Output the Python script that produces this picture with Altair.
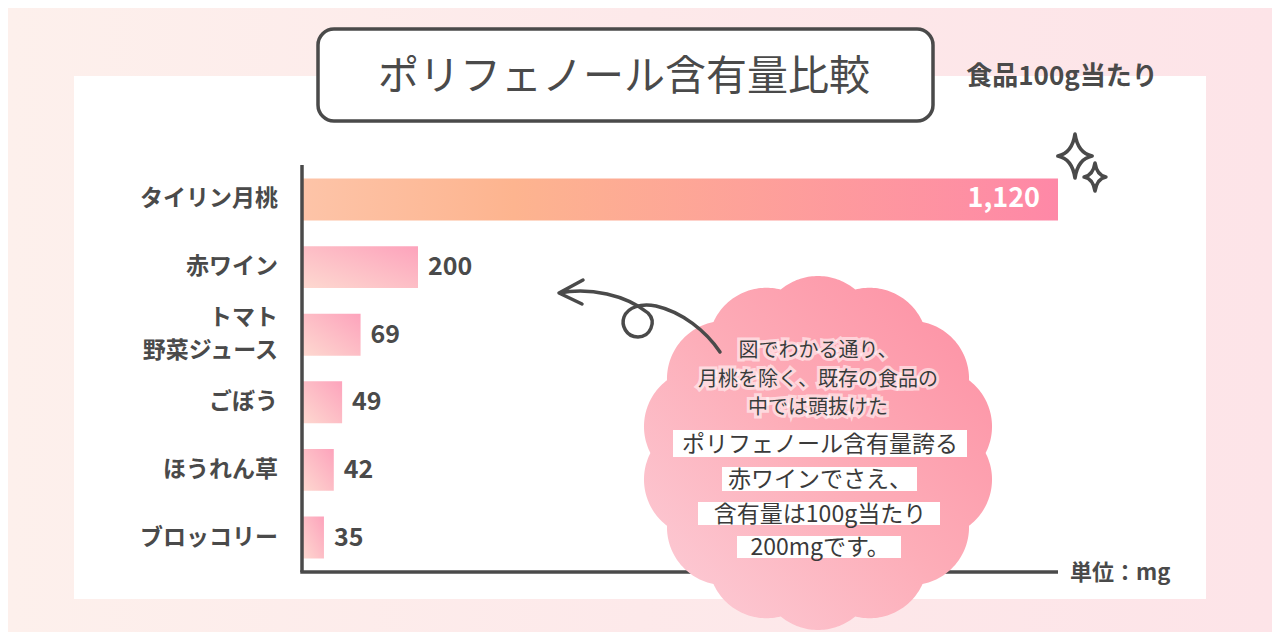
import altair as alt
import numpy as np
import pandas as pd

# ---------------- data ----------------
categories = ["タイリン月桃", "赤ワイン", "トマト\n野菜ジュース", "ごぼう", "ほうれん草", "ブロッコリー"]
values = [1120, 200, 69, 49, 42, 35]

note_lines = "図でわかる通り、\n月桃を除く、既存の食品の\n中では頭抜けた"
highlight_lines = ["ポリフェノール含有量誇る", "赤ワインでさえ、", "含有量は100g当たり", "200mgです。"]

title_text = "ポリフェノール含有量比較"
basis_text = "食品100g当たり"
unit_text = "単位：mg"

df = pd.DataFrame({"cat": categories, "value": values})

# ---------------- layout ----------------
FONT = "Noto Sans CJK JP"
INK = "#4a4a4a"
W, H = 756, 407
PAD = {"left": 294, "top": 157, "right": 214, "bottom": 60}
OX, OY = 302, 165  # page position of the plot origin


def px(x):
    return x - OX


def py(y):
    return y - OY


one = alt.Data(values=[{"k": 1}])


def grad(stops, x1=0, y1=0, x2=1, y2=0):
    return alt.LinearGradient(
        gradient="linear",
        stops=[alt.GradientStop(color=c, offset=o) for o, c in stops],
        x1=x1, y1=y1, x2=x2, y2=y2,
    )


bg_grad = grad([(0, "#fdf0ec"), (0.5, "#fde9ea"), (1, "#fde4e8")])
big_grad = grad([(0, "#fdc4a8"), (0.28, "#fdb48f"), (1, "#fe88a7")])
small_grad = grad([(0, "#fdd9d0"), (1, "#fda3bc")], x1=0, y1=1, x2=1, y2=0)
cloud_grad = grad([(0, "#fcd0da"), (0.5, "#fdadb8"), (1, "#fd8ea2")], x1=0, y1=1, x2=1, y2=0)


def rect(x0, y0, x1, y1, **kw):
    return alt.Chart(one).mark_rect(**kw).encode(
        x=alt.value(px(x0)), x2=alt.value(px(x1)),
        y=alt.value(py(y0)), y2=alt.value(py(y1)),
    )


def label(x, y, text, **kw):
    return alt.Chart(one).mark_text(text=text, font=FONT, **kw).encode(
        x=alt.value(px(x)), y=alt.value(py(y))
    )


def shape_from(points_cmds, cx, cy, s):
    out = []
    for cmd in points_cmds:
        if isinstance(cmd, str):
            out.append(cmd)
        else:
            out.append(f"{(cmd[0]-cx)/s:.4f},{(cmd[1]-cy)/s:.4f}")
    return " ".join(out)


# scalloped cloud outline (unit radius)
def cloud_path(n=14, rm=119 / 177, b=58 / 177, samples=560):
    pts = []
    for k in range(samples):
        th = -np.pi / 2 + 2 * np.pi * k / samples
        u = np.array([np.cos(th), np.sin(th)])
        best = 0.0
        for i in range(n):
            phi = -np.pi / 2 + 2 * np.pi * i / n
            c = rm * np.array([np.cos(phi), np.sin(phi)])
            uc = float(u @ c)
            disc = b * b - float(c @ c) + uc * uc
            if disc >= 0:
                best = max(best, uc + np.sqrt(disc))
        pts.append((best * u[0], best * u[1]))
    return "M" + " L".join(f"{x:.4f},{y:.4f}" for x, y in pts) + " Z"


star_path = ("M0,-1 Q0.13,-0.13 0.78,0 Q0.13,0.13 0,1 "
             "Q-0.13,0.13 -0.78,0 Q-0.13,-0.13 0,-1 Z")

acx, acy, asz = 639.5, 316, 82
arrow_path = shape_from([
    "M", (559, 293), "C", (590, 287), (626, 295), (648, 313),
    "C", (657, 322), (650, 337), (638, 337),
    "C", (626, 337), (621, 325), (624, 317),
    "C", (628, 307), (641, 303), (656, 306),
    "C", (682, 312), (706, 331), (720, 352),
    "M", (583, 280), "L", (559, 293), "L", (582, 304),
], acx, acy, asz)

# ---------------- layers ----------------
layers = []
layers.append(rect(8, 8, 1272, 632, fill=bg_grad))
layers.append(rect(74, 76, 1206, 599, fill="white"))
layers.append(rect(318, 29, 933, 121, fill="white", stroke=INK, strokeWidth=3.5, cornerRadius=16))
layers.append(label(624, 78, title_text, fontSize=41, color=INK,
                    align="center", baseline="middle"))
layers.append(label(1062, 77, basis_text, fontSize=26, fontWeight="bold", color=INK,
                    align="center", baseline="middle"))
layers.append(label(1070, 573, unit_text, fontSize=22, fontWeight="bold", color=INK,
                    align="left", baseline="middle"))

xscale = alt.Scale(type="log", domain=[23.3, 200, 1120], range=[0, 116, W])
yscale = alt.Scale(domain=categories, paddingInner=0.38, paddingOuter=0.2)

base = alt.Chart(df)
Y = alt.Y("cat:N", scale=yscale, axis=None)
X = alt.X("value:Q", scale=xscale, axis=None, stack=None)

layers.append(base.transform_filter("datum.value < 1000").mark_bar(fill=small_grad, opacity=1).encode(
    y=Y, x=X, x2=alt.value(0)))
layers.append(base.transform_filter("datum.value >= 1000").mark_bar(fill=big_grad, opacity=1).encode(
    y=Y, x=X, x2=alt.value(0)))

# axis lines (drawn over the bar starts)
layers.append(alt.Chart(one).mark_rule(color=INK, strokeWidth=3.5).encode(
    x=alt.value(0), y=alt.value(0), y2=alt.value(H)))
layers.append(alt.Chart(one).mark_rule(color=INK, strokeWidth=3.5).encode(
    x=alt.value(-1.75), x2=alt.value(W), y=alt.value(H)))

lab_kw = dict(align="right", baseline="middle", font=FONT, fontSize=23,
              fontWeight="bold", color=INK, lineBreak="\n", lineHeight=33)
layers.append(base.transform_filter("indexof(datum.cat, '\\n') < 0").mark_text(**lab_kw).encode(
    y=Y, x=alt.value(-24), text="cat:N"))
layers.append(base.transform_filter("indexof(datum.cat, '\\n') >= 0").mark_text(dy=-16.5, **lab_kw).encode(
    y=Y, x=alt.value(-24), text="cat:N"))

layers.append(base.transform_filter("datum.value < 1000").mark_text(
    align="left", baseline="middle", dx=10, font=FONT, fontSize=25, fontWeight="bold", color=INK
).encode(y=Y, x=X, text=alt.Text("value:Q", format=",")))
layers.append(base.transform_filter("datum.value >= 1000").mark_text(
    align="right", baseline="middle", dx=-18, font=FONT, fontSize=27, fontWeight="bold", color="white"
).encode(y=Y, x=X, text=alt.Text("value:Q", format=",")))

# sparkles
for cx, cy, r in [(1075, 156, 22), (1095, 177, 14)]:
    layers.append(alt.Chart(one).mark_point(
        shape=star_path, filled=False, stroke=INK, strokeWidth=3.6, size=(2 * r) ** 2,
        opacity=1, strokeJoin="round").encode(x=alt.value(px(cx)), y=alt.value(py(cy))))

# cloud bubble
layers.append(alt.Chart(one).mark_point(
    shape=cloud_path(), filled=True, fill=cloud_grad, size=354 ** 2, opacity=1, strokeWidth=0
).encode(x=alt.value(px(818)), y=alt.value(py(453))))

# arrow
layers.append(alt.Chart(one).mark_point(
    shape=arrow_path, filled=False, stroke=INK, strokeWidth=3.5, size=(2 * asz) ** 2,
    opacity=1, strokeCap="round", strokeJoin="round"
).encode(x=alt.value(px(acx)), y=alt.value(py(acy))))

# note text with glow (first line centre given; following lines below)
note_kw = dict(fontSize=20, align="center", baseline="middle", lineBreak="\n", lineHeight=28.5)
layers.append(label(818, 351, note_lines, color="white", stroke="white", strokeWidth=6,
                    strokeOpacity=0.55, **note_kw))
layers.append(label(818, 351, note_lines, color="#3a3a3a", **note_kw))

# highlighted lines
boxes = [(673, 430, 967, 457), (722, 467, 917, 491), (698, 502, 940, 525), (737, 536, 901, 558)]
for (x0, y0, x1, y1), txt in zip(boxes, highlight_lines):
    layers.append(rect(x0, y0, x1, y1, fill="white"))
    layers.append(label(820, (y0 + y1) / 2 + 1, txt, fontSize=23, color="#3a3a3a",
                        align="center", baseline="middle"))

chart = alt.layer(*layers).properties(
    width=W, height=H, padding=PAD, autosize=alt.AutoSizeParams(type="none")
).configure_view(stroke=None)

chart.save("out.html", embed_options={"renderer": "svg", "actions": False})
